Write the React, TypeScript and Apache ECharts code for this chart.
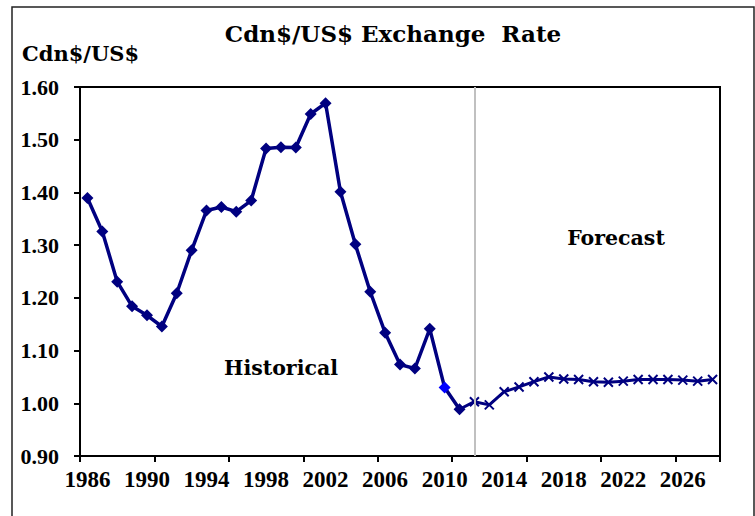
import React, { useEffect, useRef } from "react";
import * as echarts from "echarts";

const years: string[] = [];
for (let y = 1986; y <= 2028; y++) years.push(String(y));

const historical: (number | null)[] = [
  1.3895, 1.326, 1.2307, 1.184, 1.1668, 1.1457, 1.2087, 1.2901, 1.3656, 1.3724,
  1.3635, 1.3846, 1.4835, 1.4857, 1.4851, 1.5488, 1.5693, 1.4011, 1.3015, 1.2116,
  1.134, 1.0734, 1.066, 1.1412, 1.0298, 0.9887,
];

const forecastYears = [
  "2011", "2012", "2013", "2014", "2015", "2016", "2017", "2018", "2019", "2020",
  "2021", "2022", "2023", "2024", "2025", "2026", "2027", "2028",
];
const forecastValues = [
  0.9887, 1.003, 0.997, 1.022, 1.031, 1.041, 1.05, 1.046, 1.045, 1.041,
  1.04, 1.042, 1.045, 1.045, 1.045, 1.044, 1.042, 1.045,
];

const yTicks = { min: 0.9, max: 1.6, interval: 0.1 };

const NAVY = "#000080";
const TEXT_FONT = "'DejaVu Serif', serif";
const NUM_FONT = "'Liberation Serif', 'Times New Roman', serif";

export default function App() {
  const ref = useRef<HTMLDivElement>(null);
  useEffect(() => {
    if (!ref.current) return;
    const chart = echarts.init(ref.current, undefined, { renderer: "svg" });

    const histData = years.map((y, i) => {
      const v = i < historical.length ? historical[i] : null;
      if (y === "2010" && v != null) {
        return { value: v, itemStyle: { color: "#0000ff" } };
      }
      return v;
    });
    const fcData = years.map((y) => {
      const idx = forecastYears.indexOf(y);
      if (idx < 0) return null;
      if (idx === 0) return { value: forecastValues[idx], symbol: "none" };
      return forecastValues[idx];
    });

    chart.setOption({
      animation: false,
      backgroundColor: "#ffffff",
      grid: {
        left: 80,
        right: 35,
        top: 87,
        bottom: 60,
        show: true,
        borderColor: "#000",
        borderWidth: 2,
        backgroundColor: "transparent",
      },
      xAxis: {
        type: "category",
        data: years,
        boundaryGap: true,
        axisLine: { show: true, lineStyle: { color: "#000", width: 2 } },
        axisTick: {
          show: true,
          interval: 4,
          length: 6,
          lineStyle: { color: "#000", width: 2 },
        },
        axisLabel: {
          interval: 3,
          color: "#000",
          fontFamily: NUM_FONT,
          fontWeight: "bold",
          fontSize: 23,
          margin: 12,
        },
        splitLine: { show: false },
      },
      yAxis: {
        type: "value",
        min: yTicks.min,
        max: yTicks.max,
        interval: yTicks.interval,
        axisLine: { show: true, lineStyle: { color: "#000", width: 2 } },
        axisTick: {
          show: true,
          length: 6,
          lineStyle: { color: "#000", width: 2 },
        },
        axisLabel: {
          color: "#000",
          fontFamily: NUM_FONT,
          fontWeight: "bold",
          fontSize: 22,
          margin: 21,
          formatter: (v: number) => v.toFixed(2),
        },
        splitLine: { show: false },
      },
      series: [
        {
          name: "Forecast",
          type: "line",
          data: fcData,
          connectNulls: false,
          symbol: "path://M0,0L10,10M10,0L0,10",
          symbolSize: 9,
          showAllSymbol: true,
          lineStyle: { color: NAVY, width: 3 },
          itemStyle: { color: "none", borderColor: NAVY, borderWidth: 2 },
          z: 2,
          markLine: {
            silent: true,
            symbol: "none",
            label: { show: false },
            lineStyle: { color: "#c0c0c0", width: 2, type: "solid" },
            data: [{ xAxis: "2012" }],
          },
        },
        {
          name: "Historical",
          type: "line",
          data: histData,
          connectNulls: false,
          symbol: "diamond",
          symbolSize: 12,
          showAllSymbol: true,
          lineStyle: { color: NAVY, width: 3.5 },
          itemStyle: { color: NAVY },
          z: 3,
        },
      ],
      graphic: [
        {
          type: "rect",
          shape: { x: 12, y: 7, width: 742, height: 530 },
          style: { fill: "none", stroke: "#222", lineWidth: 1.5 },
          z: -1,
        },
        {
          type: "text",
          x: 393,
          y: 33,
          style: {
            text: "Cdn$/US$ Exchange  Rate",
            font: `bold 23px ${TEXT_FONT}`,
            fill: "#000",
            textAlign: "center",
            textVerticalAlign: "middle",
          },
        },
        {
          type: "text",
          x: 22,
          y: 53,
          style: {
            text: "Cdn$/US$",
            font: `bold 21px ${TEXT_FONT}`,
            fill: "#000",
            textAlign: "left",
            textVerticalAlign: "middle",
          },
        },
        {
          type: "text",
          x: 281,
          y: 368,
          style: {
            text: "Historical",
            font: `bold 20.5px ${TEXT_FONT}`,
            fill: "#000",
            textAlign: "center",
            textVerticalAlign: "middle",
          },
        },
        {
          type: "text",
          x: 616,
          y: 238,
          style: {
            text: "Forecast",
            font: `bold 20.5px ${TEXT_FONT}`,
            fill: "#000",
            textAlign: "center",
            textVerticalAlign: "middle",
          },
        },
      ],
    });
    return () => chart.dispose();
  }, []);

  return (
    <div
      ref={ref}
      style={{ position: "fixed", left: 0, top: 0, width: 755, height: 516 }}
    />
  );
}
